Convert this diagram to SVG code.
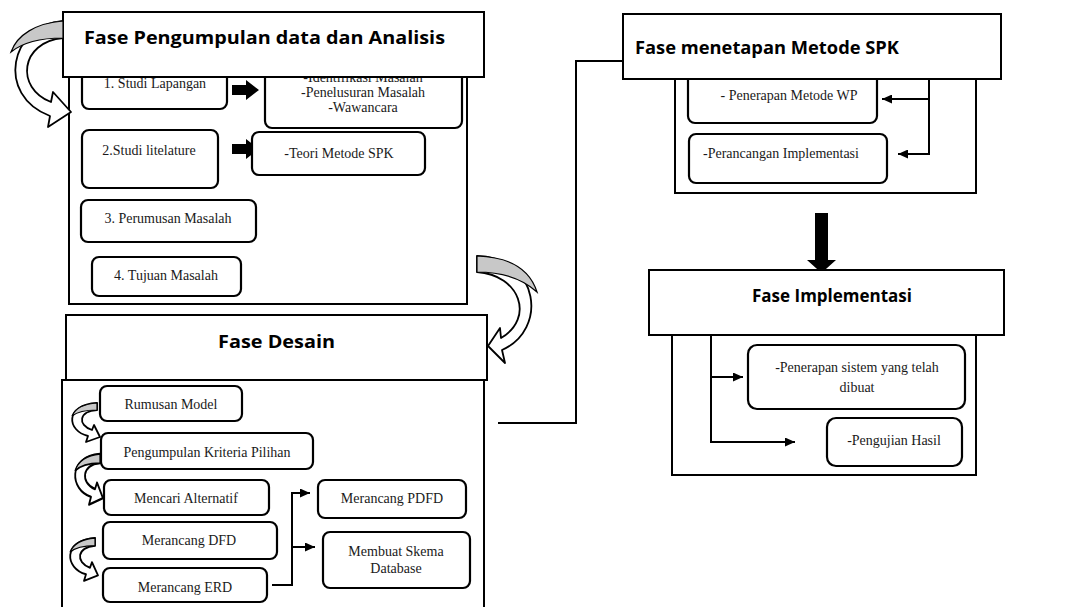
<svg xmlns="http://www.w3.org/2000/svg" width="1083" height="607" viewBox="0 0 1083 607">
  <style>
    .frame { fill: #ffffff; stroke: #000000; stroke-width: 2; }
    .item { fill: #ffffff; stroke: #000000; stroke-width: 2.2; }
    .head { font-family: "Open Sans", "Liberation Sans", sans-serif; font-weight: 700; font-size: 17px; fill: #000000; }
    .lbl { font-family: "Liberation Serif", "Times New Roman", serif; font-size: 14px; fill: #1a1a1a; text-anchor: middle; }
    .lbl-l { font-family: "Liberation Serif", "Times New Roman", serif; font-size: 14px; fill: #1a1a1a; }
    .wire { fill: none; stroke: #000000; stroke-width: 2; }
    .curl { fill: #ffffff; stroke: #000000; stroke-width: 1.8; stroke-linejoin: round; }
    .curl-back { fill: #c8c8c8; stroke: #000000; stroke-width: 1.2; }
    .block { fill: #000000; }
  </style>
  <defs>
    <marker id="tip" markerUnits="userSpaceOnUse" markerWidth="10" markerHeight="9" refX="10" refY="4.5" orient="auto">
      <path d="M0,0 L10,4.5 L0,9 Z" fill="#000000"/>
    </marker>
    <!-- small C-shaped curved arrow, top end at origin, head pointing right -->
    <g id="small-curl">
      <path class="curl" d="M0,0 C-33,2 -30,28 -9,33 L-11,39 L3,34 L-3,22 L-5,27 C-20,22 -18,8 0,7 Z"/>
      <path class="curl-back" d="M0,0 C-14,1 -22,6 -25,13 C-20,9 -11,7 0,7 Z"/>
    </g>
  </defs>

  <!-- Phase 1: data collection and analysis -->
  <g id="fase-pengumpulan">
    <rect class="frame" x="69" y="70" width="398" height="234"/>
    <g id="studi-lapangan">
      <rect class="item" x="82" y="60" width="145" height="49" rx="7"/>
      <text class="lbl" x="155" y="88">1. Studi Lapangan</text>
    </g>
    <polygon class="block" points="232,85 246,85 246,80 259,90 246,100 246,95 232,95"/>
    <g id="identifikasi">
      <rect class="item" x="265" y="60" width="197" height="68" rx="7"/>
      <text class="lbl" x="363" y="82">-Identifikasi Masalah</text>
      <text class="lbl" x="363" y="97">-Penelusuran Masalah</text>
      <text class="lbl" x="363" y="112">-Wawancara</text>
    </g>
    <g id="studi-literatur">
      <rect class="item" x="82" y="130" width="136" height="58" rx="7"/>
      <text class="lbl" x="149" y="155">2.Studi litelature</text>
    </g>
    <polygon class="block" points="232,144 246,144 246,139 259,149 246,159 246,154 232,154"/>
    <g id="teori-spk">
      <rect class="item" x="252" y="132" width="173" height="43" rx="7"/>
      <text class="lbl" x="339" y="158">-Teori Metode SPK</text>
    </g>
    <g id="perumusan">
      <rect class="item" x="81" y="200" width="175" height="42" rx="7"/>
      <text class="lbl" x="168" y="223">3. Perumusan Masalah</text>
    </g>
    <g id="tujuan">
      <rect class="item" x="92" y="257" width="149" height="39" rx="7"/>
      <text class="lbl" x="166" y="280">4. Tujuan Masalah</text>
    </g>
    <rect class="frame" x="63" y="12" width="421" height="65"/>
    <text class="head" x="84" y="44" textLength="361" lengthAdjust="spacingAndGlyphs">Fase Pengumpulan data dan Analisis</text>
  </g>

  <!-- Phase 2: design -->
  <g id="fase-desain">
    <rect class="frame" x="62" y="380" width="422" height="240"/>
    <rect class="frame" x="66" y="315" width="421" height="65"/>
    <text class="head" x="218" y="348" textLength="117" lengthAdjust="spacingAndGlyphs">Fase Desain</text>
    <g id="rumusan-model">
      <rect class="item" x="100" y="386" width="142" height="35" rx="7"/>
      <text class="lbl" x="171" y="409">Rumusan Model</text>
    </g>
    <g id="kriteria">
      <rect class="item" x="101" y="433" width="212" height="36" rx="7"/>
      <text class="lbl" x="207" y="457">Pengumpulan Kriteria Pilihan</text>
    </g>
    <g id="alternatif">
      <rect class="item" x="104" y="480" width="165" height="35" rx="7"/>
      <text class="lbl" x="186" y="503">Mencari Alternatif</text>
    </g>
    <g id="dfd">
      <rect class="item" x="103" y="522" width="174" height="37" rx="7"/>
      <text class="lbl" x="189" y="545">Merancang DFD</text>
    </g>
    <g id="erd">
      <rect class="item" x="103" y="568" width="164" height="34" rx="7"/>
      <text class="lbl" x="185" y="592">Merancang ERD</text>
    </g>
    <g id="pdfd">
      <rect class="item" x="318" y="480" width="148" height="38" rx="7"/>
      <text class="lbl" x="392" y="503">Merancang PDFD</text>
    </g>
    <g id="skema-db">
      <rect class="item" x="323" y="532" width="147" height="56" rx="7"/>
      <text class="lbl" x="396" y="556">Membuat Skema</text>
      <text class="lbl" x="396" y="573">Database</text>
    </g>
  </g>

  <!-- Phase 3: choosing the SPK method -->
  <g id="fase-metode">
    <rect class="frame" x="675" y="70" width="301" height="123"/>
    <g id="penerapan-wp">
      <rect class="item" x="688" y="72" width="189" height="51" rx="7"/>
      <text class="lbl" x="789" y="100">- Penerapan Metode WP</text>
    </g>
    <g id="perancangan">
      <rect class="item" x="689" y="134" width="198" height="49" rx="7"/>
      <text class="lbl" x="781" y="158">-Perancangan Implementasi</text>
    </g>
    <rect class="frame" x="623" y="14" width="378" height="65"/>
    <text class="head" x="635" y="54" textLength="264" lengthAdjust="spacingAndGlyphs">Fase menetapan Metode SPK</text>
  </g>

  <!-- Phase 4: implementation -->
  <g id="fase-implementasi">
    <polygon class="block" points="815,213 828,213 828,260 836,260 821.5,273 807,260 815,260"/>
    <rect class="frame" x="672" y="325" width="304" height="150"/>
    <rect class="frame" x="649" y="270" width="355" height="65"/>
    <text class="head" x="752" y="302" textLength="160" lengthAdjust="spacingAndGlyphs">Fase Implementasi</text>
    <g id="penerapan-sistem">
      <rect class="item" x="748" y="345" width="217" height="64" rx="9"/>
      <text class="lbl" x="857" y="372">-Penerapan sistem yang telah</text>
      <text class="lbl" x="857" y="392">dibuat</text>
    </g>
    <g id="pengujian">
      <rect class="item" x="827" y="418" width="135" height="48" rx="9"/>
      <text class="lbl" x="894" y="445">-Pengujian Hasil</text>
    </g>
  </g>

  <!-- Connectors -->
  <g id="connectors">
    <!-- curved block arrow into phase 1 -->
    <path class="curl" d="M63,21 C10,25 -5,95 50,116 L48,127 L71,112 L53,92 L51,102 C15,88 20,42 63,38 Z"/>
    <path class="curl-back" d="M63,21 C36,23 17,35 11,52 C22,43 40,38 63,38 Z"/>
    <!-- curved block arrow from phase 1 to phase 2 -->
    <path class="curl" d="M477,256 C540,258 548,330 502,350 L505,363 L488,346 L500,328 L501,338 C535,318 520,275 477,272 Z"/>
    <path class="curl-back" d="M477,256 C510,257 530,270 537,292 C525,281 505,272 477,272 Z"/>
    <!-- small curls inside phase 2 -->
    <use href="#small-curl" transform="translate(97,403)"/>
    <use href="#small-curl" transform="translate(100,454) scale(1,1.3)"/>
    <use href="#small-curl" transform="translate(95,538) scale(1,1.1)"/>
    <!-- ERD branches to PDFD and schema -->
    <polyline class="wire" points="272,585 292,585 292,493 310,493" marker-end="url(#tip)"/>
    <polyline class="wire" points="292,547 315,547" marker-end="url(#tip)"/>
    <!-- phase 2 to phase 3 -->
    <polyline class="wire" points="498,423 576,423 576,61 623,61"/>
    <!-- phase 3 fan-out -->
    <polyline class="wire" points="929,79 929,154 898,154" marker-end="url(#tip)"/>
    <polyline class="wire" points="929,99 882,99" marker-end="url(#tip)"/>
    <!-- phase 4 fan-out -->
    <polyline class="wire" points="711,335 711,442 795,442" marker-end="url(#tip)"/>
    <polyline class="wire" points="711,377 743,377" marker-end="url(#tip)"/>
  </g>
</svg>
